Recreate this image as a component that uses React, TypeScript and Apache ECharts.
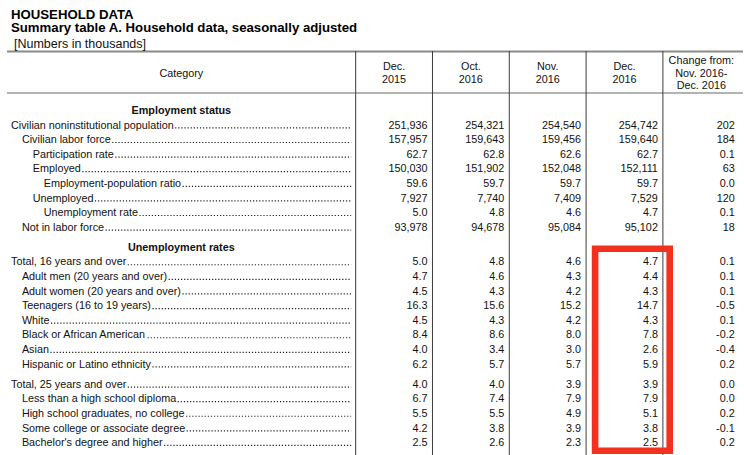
import React, { useEffect, useRef } from "react";
import * as echarts from "echarts";

// ---------- data ----------
const titleLines = [
  "HOUSEHOLD DATA",
  "Summary table A. Household data, seasonally adjusted",
  "[Numbers in thousands]",
];
const categoryHeader = "Category";
const columnHeaders = [
  "Dec.\n2015",
  "Oct.\n2016",
  "Nov.\n2016",
  "Dec.\n2016",
  "Change from:\nNov. 2016-\nDec. 2016",
];
const categories = [
  "Employment status",
  "Civilian noninstitutional population",
  "Civilian labor force",
  "Participation rate",
  "Employed",
  "Employment-population ratio",
  "Unemployed",
  "Unemployment rate",
  "Not in labor force",
  "Unemployment rates",
  "Total, 16 years and over",
  "Adult men (20 years and over)",
  "Adult women (20 years and over)",
  "Teenagers (16 to 19 years)",
  "White",
  "Black or African American",
  "Asian",
  "Hispanic or Latino ethnicity",
  "Total, 25 years and over",
  "Less than a high school diploma",
  "High school graduates, no college",
  "Some college or associate degree",
  "Bachelor's degree and higher",
];
// hierarchy level of each category (-1 = section heading)
const levels = [-1, 0, 1, 2, 2, 3, 2, 3, 1, -1, 0, 1, 1, 1, 1, 1, 1, 1, 0, 1, 1, 1, 1];
// "count" = thousands of persons, "rate" = percent
const units = [
  "", "count", "count", "rate", "count", "rate", "count", "rate", "count",
  "", "rate", "rate", "rate", "rate", "rate", "rate", "rate", "rate",
  "rate", "rate", "rate", "rate", "rate",
];
const dec2015 = [null, 251936, 157957, 62.7, 150030, 59.6, 7927, 5.0, 93978,
  null, 5.0, 4.7, 4.5, 16.3, 4.5, 8.4, 4.0, 6.2, 4.0, 6.7, 5.5, 4.2, 2.5];
const oct2016 = [null, 254321, 159643, 62.8, 151902, 59.7, 7740, 4.8, 94678,
  null, 4.8, 4.6, 4.3, 15.6, 4.3, 8.6, 3.4, 5.7, 4.0, 7.4, 5.5, 3.8, 2.6];
const nov2016 = [null, 254540, 159456, 62.6, 152048, 59.7, 7409, 4.6, 95084,
  null, 4.6, 4.3, 4.2, 15.2, 4.2, 8.0, 3.0, 5.7, 3.9, 7.9, 4.9, 3.9, 2.3];
const dec2016 = [null, 254742, 159640, 62.7, 152111, 59.7, 7529, 4.7, 95102,
  null, 4.7, 4.4, 4.3, 14.7, 4.3, 7.8, 2.6, 5.9, 3.9, 7.9, 5.1, 3.8, 2.5];
const changeNovDec = [null, 202, 184, 0.1, 63, 0.0, 120, 0.1, 18,
  null, 0.1, 0.1, 0.1, -0.5, 0.1, -0.2, -0.4, 0.2, 0.0, 0.0, 0.2, -0.1, 0.2];
const valueColumns = [dec2015, oct2016, nov2016, dec2016, changeNovDec];
const highlightedColumn = 3; // Dec. 2016
const highlightedSection = "Unemployment rates";

// ---------- layout ----------
const FONT = '"Liberation Sans", Arial, Helvetica, sans-serif';
const FS = 10.8;
const X_MAX = 9.583;
const CAT_W = 4.54;
const colBounds = [0, CAT_W, CAT_W + 1, CAT_W + 2, CAT_W + 3, CAT_W + 4, CAT_W + 5];
const Y_MAX = 27.67;
const HEADER_H = 2.877;
const FIRST_ROW = 4.04;
const EXTRA_GAP = 0.375;

const rowY: number[] = [];
{
  let y = FIRST_ROW;
  categories.forEach((_, i) => {
    if (i > 0) {
      y += 1;
      if (levels[i] === -1 || (levels[i] === 0 && levels[i - 1] !== -1)) y += EXTRA_GAP;
    }
    rowY.push(y);
  });
}

const measureCtx =
  typeof document !== "undefined" ? document.createElement("canvas").getContext("2d") : null;
function measure(text: string, font: string) {
  if (!measureCtx) return text.length * 5;
  measureCtx.font = font;
  return measureCtx.measureText(text).width;
}

function fmt(v: number | null, unit: string) {
  if (v === null || v === undefined) return "";
  if (unit === "rate") return v.toFixed(1);
  return v.toLocaleString("en-US");
}

function txt(text: string, x: number, y: number, align: string, opts: any = {}) {
  return {
    type: "text",
    style: {
      text,
      x,
      y,
      align,
      verticalAlign: "middle",
      textAlign: align,
      textVerticalAlign: "middle",
      fontSize: opts.fontSize || FS,
      fontWeight: opts.fontWeight || "normal",
      fontFamily: FONT,
      lineHeight: opts.lineHeight,
      fill: opts.fill || "#111",
    },
  };
}

function renderRow(params: any, api: any) {
  const i = params.dataIndex;
  const [xl, y] = api.coord([api.value(0), api.value(1)]);
  const xCatR = api.coord([CAT_W, 0])[0];
  const children: any[] = [];
  if (levels[i] < 0) {
    children.push(txt(categories[i], (xl + xCatR) / 2, y, "center", { fontWeight: "bold" }));
    return { type: "group", children };
  }
  const lx = xl + 4 + levels[i] * 10.9;
  const w = measure(categories[i], `${FS}px ${FONT}`);
  children.push({
    type: "line",
    shape: { x1: lx + w + 1.5, y1: y + 3.3, x2: xCatR - 4.5, y2: y + 3.3 },
    style: { stroke: "#222", lineWidth: 1.2, lineDash: [1.2, 1.9] },
  });
  children.push(txt(categories[i], lx, y, "left"));
  valueColumns.forEach((arr, c) => {
    const xr = api.coord([colBounds[c + 2], 0])[0];
    children.push(txt(fmt(arr[i], units[i]), xr - 5, y, "right"));
  });
  return { type: "group", children };
}

function renderFrame(params: any, api: any) {
  const [x0, y0] = api.coord([0, 0]);
  const [x1, y1] = api.coord([X_MAX, Y_MAX]);
  const yh = api.coord([0, HEADER_H])[1];
  const ymid = api.coord([0, HEADER_H / 2])[1];
  const children: any[] = [];
  children.push({
    type: "line",
    shape: { x1: x0, y1: y0 + 0.5, x2: x1, y2: y0 + 0.5 },
    style: { stroke: "#8a8a8a", lineWidth: 2 },
  });
  children.push({
    type: "line",
    shape: { x1: x0, y1: yh, x2: x1, y2: yh },
    style: { stroke: "#9a9a9a", lineWidth: 1.6 },
  });
  for (let c = 1; c <= 5; c++) {
    const x = api.coord([colBounds[c], 0])[0];
    children.push({
      type: "line",
      shape: { x1: x, y1: y0, x2: x, y2: y1 },
      style: { stroke: "#3c3c3c", lineWidth: 1 },
    });
  }
  const xc = api.coord([colBounds[1] / 2, 0])[0];
  children.push(txt(categoryHeader, xc, ymid + 1, "center"));
  columnHeaders.forEach((h, c) => {
    const xm = api.coord([(colBounds[c + 1] + colBounds[c + 2]) / 2, 0])[0];
    children.push(txt(h, xm, ymid + 0.5, "center", { lineHeight: 12.4 }));
  });
  return { type: "group", children };
}

function renderHighlight(params: any, api: any) {
  const first = categories.indexOf(highlightedSection) + 1;
  const last = categories.length - 1;
  const xa = api.coord([colBounds[highlightedColumn + 1], 0])[0] + 9;
  const xb = api.coord([colBounds[highlightedColumn + 2], 0])[0] + 6.8;
  const ya = api.coord([0, rowY[first]])[1] - 12.7;
  const yb = api.coord([0, rowY[last]])[1] + 8.6;
  return {
    type: "rect",
    shape: { x: xa, y: ya, width: xb - xa, height: yb - ya },
    style: { fill: "none", stroke: "#f4301f", lineWidth: 6.6 },
  };
}

const option: any = {
  animation: false,
  backgroundColor: "#ffffff",
  title: [
    {
      text: titleLines[0], left: 11, top: 7.5, padding: 0,
      textStyle: { fontSize: 13.2, fontWeight: "bold", fontFamily: FONT, color: "#000", lineHeight: 13 },
    },
    {
      text: titleLines[1], left: 11, top: 21, padding: 0,
      textStyle: { fontSize: 13.2, fontWeight: "bold", fontFamily: FONT, color: "#000", lineHeight: 13 },
    },
    {
      text: titleLines[2], left: 14, top: 38, padding: 0,
      textStyle: { fontSize: 12.5, fontWeight: "normal", fontFamily: FONT, color: "#111", lineHeight: 12 },
    },
  ],
  grid: { left: 7, right: 1, top: 51, bottom: 0, containLabel: false },
  xAxis: { type: "value", min: 0, max: X_MAX, show: false },
  yAxis: { type: "value", min: 0, max: Y_MAX, inverse: true, show: false },
  series: [
    {
      type: "custom", name: "frame", silent: true, clip: false,
      data: [[0, 0]], renderItem: renderFrame,
    },
    {
      type: "custom", name: "rows", silent: true, clip: false,
      data: rowY.map((y) => [0, y]), renderItem: renderRow,
    },
    {
      type: "custom", name: "highlight", silent: true, clip: false,
      data: [[colBounds[highlightedColumn + 1], rowY[categories.indexOf(highlightedSection) + 1]]],
      renderItem: renderHighlight,
    },
  ],
};

export default function App() {
  const ref = useRef<HTMLDivElement>(null);
  useEffect(() => {
    document.body.style.margin = "0";
    const chart = echarts.init(ref.current as HTMLDivElement, null, { renderer: "svg" });
    chart.setOption(option);
    return () => chart.dispose();
  }, []);
  return <div ref={ref} style={{ width: 744, height: 455 }} />;
}
